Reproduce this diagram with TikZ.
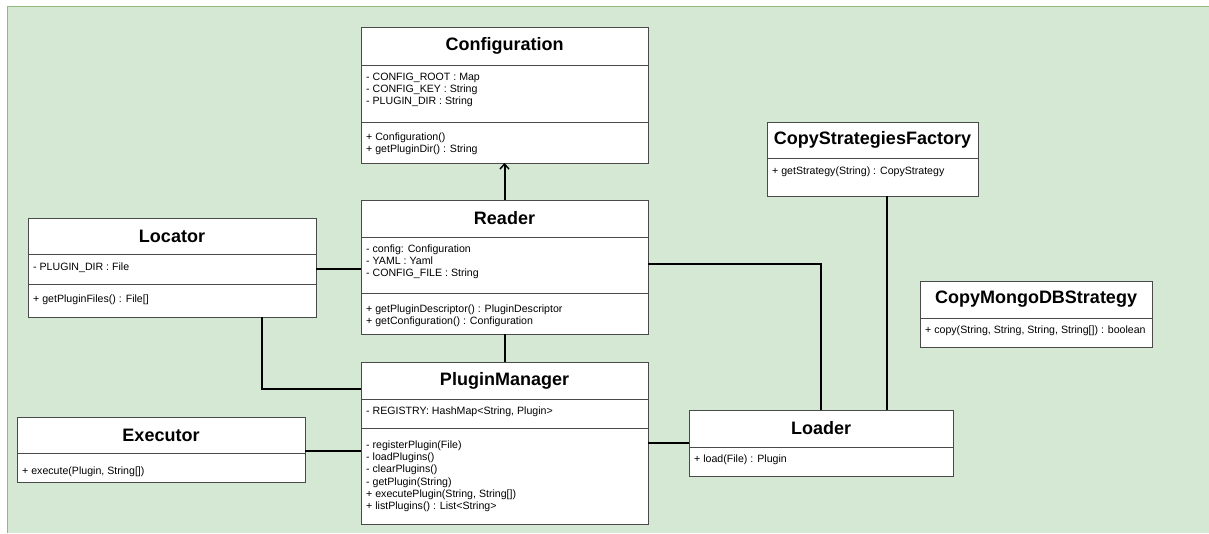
\documentclass[tikz,border=0pt]{standalone}
\usepackage{fontspec}
\setmainfont{Liberation Sans}
\usetikzlibrary{arrows.meta,calc}

\definecolor{bgfill}{HTML}{D5E8D4}
\definecolor{bgline}{HTML}{8FBC7A}
\definecolor{boxline}{HTML}{4A4A4A}

\tikzset{
  classbox/.style={draw=boxline, fill=white, line width=1pt, anchor=north west,
    inner sep=0pt, outer sep=0pt},
  sepline/.style={draw=boxline, line width=1pt},
  classtitle/.style={font=\fontsize{18}{20}\selectfont\bfseries, inner sep=0pt, anchor=center},
  member/.style={font=\fontsize{10.6}{12}\selectfont, inner sep=0pt, anchor=base west},
  link/.style={draw=black, line width=2pt},
  uses/.style={link, -{Straight Barb[length=5pt, width=9pt, line width=1.4pt]}},
}

% prefix, x, baseline of first line, list of lines
\newcommand{\memberlines}[4]{%
  \foreach \t [count=\i from 0] in {#4} {\node[member] (#1-\i) at (#2,#3+12.2*\i) {\t};}}
% horizontal compartment line of a class box, given its distance from the top
\newcommand{\hsep}[2]{%
  \draw[sepline] ([yshift=-#2pt]#1.north west) -- ([yshift=-#2pt]#1.north east);}

\begin{document}
\begin{tikzpicture}[x=1pt, y=-1pt]
\useasboundingbox (0,0) rectangle (1209,533);

% background panel
\fill[white] (0,0) rectangle (1209,533);
\fill[bgfill] (7.5,6.5) rectangle (1209,533);
\draw[bgline, line width=1pt] (7.5,533) -- (7.5,6.5) -- (1209,6.5);

% Configuration
\node[classbox, minimum width=287pt, minimum height=136pt] (conf) at (361,27) {};
\node[classtitle] (conf-t) at ($(conf.north)+(0,19)$) {Configuration};
\hsep{conf}{38}
\hsep{conf}{95}
\memberlines{conf-a}{366}{80.3}{{- CONFIG\_ROOT : Map},{- CONFIG\_KEY : String},{- PLUGIN\_DIR : String}}
\memberlines{conf-m}{366}{140.3}{{+ Configuration()},{+ getPluginDir() : String}}

% Reader
\node[classbox, minimum width=287pt, minimum height=134pt] (reader) at (361,200) {};
\node[classtitle] (reader-t) at ($(reader.north)+(0,18.5)$) {Reader};
\hsep{reader}{37}
\hsep{reader}{93}
\memberlines{reader-a}{366}{252.5}{{- config: Configuration},{- YAML : Yaml},{- CONFIG\_FILE : String}}
\memberlines{reader-m}{366}{312.5}{{+ getPluginDescriptor() : PluginDescriptor},{+ getConfiguration() : Configuration}}

% PluginManager
\node[classbox, minimum width=287pt, minimum height=162pt] (pm) at (361,362) {};
\node[classtitle] (pm-t) at ($(pm.north)+(0,18.5)$) {PluginManager};
\hsep{pm}{37}
\hsep{pm}{66}
\memberlines{pm-a}{366}{414.5}{{- REGISTRY: HashMap<String, Plugin>}}
\memberlines{pm-m}{366}{448.5}{{- registerPlugin(File)},{- loadPlugins()},{- clearPlugins()},{- getPlugin(String)},{+ executePlugin(String, String[])},{+ listPlugins() : List<String>}}

% Locator
\node[classbox, minimum width=288pt, minimum height=99pt] (locator) at (28,218) {};
\node[classtitle] (locator-t) at ($(locator.north)+(0,18)$) {Locator};
\hsep{locator}{36}
\hsep{locator}{66}
\memberlines{locator-a}{33}{270.5}{{- PLUGIN\_DIR : File}}
\memberlines{locator-m}{33}{302.5}{{+ getPluginFiles() : File[]}}

% Executor
\node[classbox, minimum width=288pt, minimum height=65pt] (exec) at (17,417) {};
\node[classtitle] (exec-t) at ($(exec.north)+(0,18)$) {Executor};
\hsep{exec}{36}
\memberlines{exec-m}{22}{474.5}{{+ execute(Plugin, String[])}}

% Loader
\node[classbox, minimum width=264pt, minimum height=66pt] (loader) at (689,410) {};
\node[classtitle] (loader-t) at ($(loader.north)+(0,18.5)$) {Loader};
\hsep{loader}{37}
\memberlines{loader-m}{694}{462.5}{{+ load(File) : Plugin}}

% CopyStrategiesFactory
\node[classbox, minimum width=211pt, minimum height=74pt] (factory) at (767,122) {};
\node[classtitle] (factory-t) at ($(factory.north)+(0,18)$) {CopyStrategiesFactory};
\hsep{factory}{36}
\memberlines{factory-m}{772}{174.5}{{+ getStrategy(String) : CopyStrategy}}

% CopyMongoDBStrategy
\node[classbox, minimum width=232pt, minimum height=66pt] (mongo) at (920,281) {};
\node[classtitle] (mongo-t) at ($(mongo.north)+(0,18.5)$) {CopyMongoDBStrategy};
\hsep{mongo}{37}
\memberlines{mongo-m}{925}{333.5}{{+ copy(String, String, String, String[]) : boolean}}

% associations
\draw[uses] (reader.north) -- (conf.south);
\draw[link] (reader.south) -- (pm.north);
\draw[link] ([yshift=-1pt]locator.east) -- ([yshift=-1pt]locator.east -| reader.west);
\draw[link] ([xshift=234pt]locator.south west) |- ([yshift=-27pt]pm.north west);
\draw[link] ([yshift=-1.5pt]exec.east) -- ([yshift=-1.5pt]exec.east -| pm.west);
\draw[link] (pm.east) -- (loader.west);
\draw[link] ([yshift=3.5pt]reader.east) -| (loader.north);
\draw[link] ([xshift=14.5pt]factory.south) -- ([xshift=14.5pt]factory.south |- loader.north);
\end{tikzpicture}
\end{document}
